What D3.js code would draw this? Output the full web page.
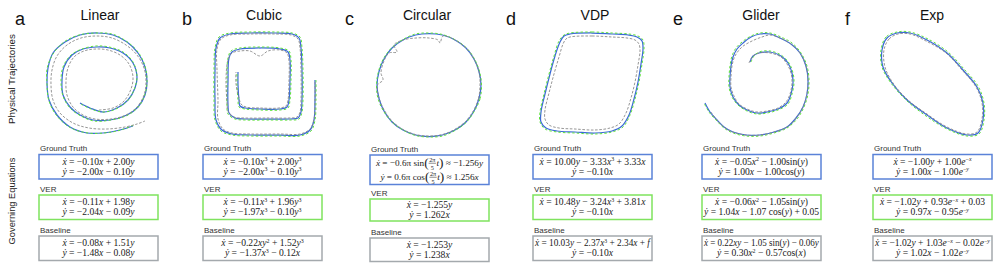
<!DOCTYPE html>
<html>
<head>
<meta charset="utf-8">
<script src="https://cdn.jsdelivr.net/npm/d3@7"></script>
<style>
body { margin: 0; background: #fff; }
svg { display: block; }
text { white-space: pre; }
</style>
</head>
<body>
<svg id="fig" width="997" height="263"></svg>
<script>
// phase-plane trajectories, offsets from each panel's centre (y grows downward)
const linGT = [[-17,20],[-7,25],[6,29],[20,25],[31,17],[38,5],[40,-6],[36,-20],[26,-30],[13,-35],[0,-36],[-14,-34],[-25,-28],[-33,-16],[-35,-3],[-34,12],[-27,24],[-17,32],[-4,37],[13,37],[30,32],[41,24],[48,12],[50,-1],[48,-16],[41,-30],[30,-41],[16,-48],[0,-50],[-17,-48],[-32,-41],[-44,-30],[-49,-15],[-50,0],[-48,17],[-40,32],[-27,44],[-10,50],[6,50],[23,47],[36,43]];
const linVER = [[-16,21],[-6,26],[7,29],[21,25],[32,16],[38,4],[40,-7],[36,-21],[26,-31],[12,-36],[-1,-37],[-15,-34],[-26,-28],[-34,-16],[-36,-2],[-34,13],[-27,25],[-16,33],[-3,38],[14,37],[31,32],[42,23],[48,11],[50,-2],[48,-17],[41,-31],[29,-42],[15,-49],[-1,-50],[-18,-48],[-33,-41],[-44,-29],[-50,-14],[-50,1],[-48,18],[-40,33],[-26,45],[-9,50],[7,50],[24,47],[37,42]];
const linBase = [[2,27],[16,25],[27,18],[34,6],[36,-6],[32,-19],[23,-28],[11,-33],[-1,-34],[-13,-32],[-23,-26],[-29,-15],[-31,-2],[-30,12],[-24,24],[-14,32],[-2,36],[14,36],[29,32],[40,24],[47,12],[49,-1],[47,-15],[40,-28],[29,-38],[15,-45],[0,-47],[-16,-45],[-30,-38],[-40,-27],[-45,-13],[-46,2],[-44,17],[-37,30],[-24,40],[-8,45],[10,46],[28,44],[40,41],[48,38]];

const cubGT = [[57,-4],[57,16],[56,36],[52,46],[42,51],[22,51],[-8,51],[-26,50],[-36,46],[-42,36],[-43,16],[-43,-14],[-42,-36],[-38,-46],[-28,-50],[-8,-51],[17,-51],[34,-50],[41,-46],[43,-36],[44,-14],[44,16],[43,28],[40,34],[32,35],[12,35],[-13,35],[-23,34],[-29,29],[-30,21],[-30,-4],[-29,-26],[-26,-32],[-18,-35],[2,-36],[22,-35],[30,-32],[32,-24],[32,-4],[31,16],[29,23],[22,25],[2,25],[-13,24],[-18,22],[-19,16],[-20,1],[-20,-12]];
const cubVER = [[58,-4],[58,16],[57,36],[53,47],[42,52],[22,52],[-8,52],[-26,51],[-37,47],[-43,36],[-44,16],[-44,-14],[-43,-36],[-39,-47],[-28,-51],[-8,-52],[17,-52],[34,-51],[42,-47],[44,-36],[45,-14],[45,16],[44,28],[41,35],[32,36],[12,36],[-13,36],[-23,35],[-30,30],[-31,21],[-31,-4],[-30,-26],[-27,-33],[-18,-36],[2,-37],[22,-36],[31,-33],[33,-24],[33,-4],[32,16],[30,24],[22,26],[2,26],[-13,25],[-19,23],[-20,16],[-21,1],[-21,-12]];
const cubBase = [[57,-2],[57,16],[56,35],[52,45],[42,50],[22,50],[-8,50],[-26,49],[-35,45],[-40,35],[-40,16],[-41,-14],[-41,-35],[-37,-45],[-28,-49],[-8,-50],[17,-50],[33,-49],[40,-45],[42,-36],[43,-14],[43,16],[42,28],[39,33],[31,34],[12,34],[-13,34],[-24,33],[-30,27],[-31,18],[-32,-4],[-30,-24],[-26,-31],[-18,-33],[-8,-33],[2,-28],[10,-33],[22,-34],[29,-31],[31,-23],[31,-4],[30,16],[28,22],[21,24],[2,24],[-12,23],[-17,20],[-19,14],[-22,0],[-22,-12]];

const circGT = [[52,0],[50,13.5],[45,26],[37,37],[26,45],[13.5,50],[0,51.5],[-13.5,50],[-26,45],[-37,37],[-45,26],[-50,13.5],[-52,0],[-50,-13.5],[-45,-26],[-37,-37],[-26,-45],[-13.5,-50],[0,-51.5],[13.5,-50],[26,-45],[37,-37],[45,-26],[50,-13.5]];
const circVER = [[52.5,0],[51,14],[45.5,26],[37,37.5],[26,45.5],[13.5,51],[0,52],[-13.5,50.5],[-26,45],[-37,37],[-45.5,26],[-51,13.5],[-52.5,0],[-50.5,-13.5],[-45.5,-26.5],[-37,-37.5],[-26,-45.5],[-13.5,-51],[0,-52],[13.5,-50.5],[26.5,-45],[37.5,-37],[45.5,-26],[50.5,-13.5]];
const circBase = [[51,0],[49.5,13.5],[44.5,25.5],[36.5,36.5],[25.5,44.5],[13.5,49.5],[0,51],[-13.5,49.5],[-26,44.5],[-36.5,36.5],[-44.5,25.5],[-50,13],[-51.5,0],[-46,-5],[-48,-12],[-45,-24],[-40,-32],[-32,-33],[-35,-40],[-26,-45],[-13,-47],[0,-47],[9,-45],[11,-42],[14,-49],[26,-45],[37,-37],[45,-26],[50,-13.5]];

const vdpGT = [[-22,-50],[0,-51],[20,-50],[36,-49],[45,-47],[50,-43],[51,-35],[49,-20],[46,-2],[42,15],[37,31],[30,42],[20,47],[3,49],[-17,48],[-35,47],[-46,44],[-51,38],[-51,28],[-47,10],[-42,-10],[-37,-28],[-32,-42],[-28,-48]];
const vdpVER = [[-22,-51],[0,-52],[20,-51],[37,-50],[46,-48],[51,-44],[52,-35],[50,-20],[47,-2],[43,15],[38,31],[31,43],[20,48],[3,50],[-17,49],[-35,48],[-47,45],[-52,38],[-52,28],[-48,10],[-43,-10],[-38,-28],[-33,-43],[-28,-49]];
const vdpBase = [[-22,-47],[0,-48],[20,-47],[35,-46],[43,-44],[47,-40],[48,-33],[46,-19],[43,-2],[39,14],[34,29],[27,40],[18,44],[3,46],[-17,45],[-33,44],[-43,41],[-47,35],[-47,26],[-43,9],[-38,-10],[-33,-27],[-29,-40],[-26,-45]];

const gliGT = [[-7,-22],[-4,-28],[2,-31],[13,-32],[24,-28],[31,-21],[35,-11],[36,-1],[34,10],[30,19],[21,25],[10,28],[0,29],[-10,26],[-18,21],[-24,13],[-27,3],[-27,-7],[-26,-18],[-24,-27],[-20,-35],[-14,-41],[-6,-47],[3,-50],[13,-50],[23,-46],[34,-40],[43,-31],[49,-18],[51,-4],[50,10],[46,23],[39,34],[30,43],[17,48],[3,51],[-11,51],[-24,48],[-33,43],[-40,36],[-47,28],[-52,19]];
const gliVER = [[-6,-22],[-3,-28],[2,-32],[13,-33],[24,-29],[32,-21],[36,-11],[37,-1],[35,10],[31,20],[21,26],[10,29],[0,30],[-10,27],[-19,21],[-25,13],[-28,3],[-28,-7],[-27,-18],[-25,-28],[-21,-36],[-15,-42],[-6,-48],[3,-51],[13,-51],[24,-47],[35,-41],[44,-31],[50,-18],[52,-4],[51,10],[47,23],[40,35],[30,44],[17,49],[3,52],[-11,52],[-24,49],[-33,44],[-41,36],[-48,28],[-53,19]];
const gliBase = [[-8,-21],[-4,-28],[2,-31],[13,-31],[24,-27],[30,-20],[34,-11],[35,-1],[33,10],[29,18],[21,24],[10,27],[0,28],[-10,25],[-18,20],[-23,12],[-26,3],[-26,-7],[-25,-18],[-22,-28],[-15,-37],[-5,-43],[5,-47],[13,-49],[23,-46],[34,-40],[43,-31],[49,-18],[51,-4],[50,10],[46,23],[39,34],[30,43],[17,48],[3,51],[-11,51],[-24,48],[-33,43],[-40,36],[-46,28]];

const expGT = [[-35,-51],[-45,-46],[-50,-34],[-49,-17],[-40,-1],[-25,16],[-5,31],[15,44],[35,51],[46,49],[51,36],[51,19],[45,3],[31,-14],[15,-31],[-5,-44],[-22,-51]];
const expVER = [[-35,-52],[-46,-47],[-51,-34],[-50,-17],[-41,-1],[-26,16],[-6,32],[15,45],[35,52],[47,50],[52,36],[52,19],[46,2],[32,-15],[16,-32],[-4,-45],[-22,-52]];
const expBase = [[-34,-50],[-43,-45],[-48,-34],[-47,-17],[-39,-1],[-24,16],[-5,30],[15,43],[35,50],[45,48],[50,35],[50,19],[44,3],[30,-14],[14,-31],[-6,-43],[-22,-50]];

const letters = ['a', 'b', 'c', 'd', 'e', 'f'];
const titles = ['Linear', 'Cubic', 'Circular', 'VDP', 'Glider', 'Exp'];
const rowLabels = ['Ground Truth', 'VER', 'Baseline'];

// governing equations, two lines per box (^ superscript, \f fraction, < > big parens)
const eqGT = [
  ['ẋ = −0.10x + 2.00y', 'ẏ = −2.00x − 0.10y'],
  ['ẋ = −0.10x^3 + 2.00y^3', 'ẏ = −2.00x^3 − 0.10y^3'],
  ['ẋ = −0.6π sin<\\f{2π}{5}t> ≈ −1.256y', 'ẏ = 0.6π cos<\\f{2π}{5}t> ≈ 1.256x'],
  ['ẋ = 10.00y − 3.33x^3 + 3.33x', 'ẏ = −0.10x'],
  ['ẋ = −0.05x^2 − 1.00sin(y)', 'ẏ = 1.00x − 1.00cos(y)'],
  ['ẋ = −1.00y + 1.00e^{−x}', 'ẏ = 1.00x − 1.00e^{−y}']
];
const eqVER = [
  ['ẋ = −0.11x + 1.98y', 'ẏ = −2.04x − 0.09y'],
  ['ẋ = −0.11x^3 + 1.96y^3', 'ẏ = −1.97x^3 − 0.10y^3'],
  ['ẋ = −1.255y', 'ẏ = 1.262x'],
  ['ẋ = 10.48y − 3.24x^3 + 3.81x', 'ẏ = −0.10x'],
  ['ẋ = −0.06x^2 − 1.05sin(y)', 'ẏ = 1.04x − 1.07 cos(y) + 0.05'],
  ['ẋ = −1.02y + 0.93e^{−x} + 0.03', 'ẏ = 0.97x − 0.95e^{−y}']
];
const eqBase = [
  ['ẋ = −0.08x + 1.51y', 'ẏ = −1.48x − 0.08y'],
  ['ẋ = −0.22xy^2 + 1.52y^3', 'ẏ = −1.37x^3 − 0.12x'],
  ['ẋ = −1.253y', 'ẏ = 1.238x'],
  ['ẋ = 10.03y − 2.37x^3 + 2.34x + f', 'ẏ = −0.10x'],
  ['ẋ = 0.22xy − 1.05 sin(y) − 0.06y', 'ẏ = 0.30x^2 − 0.57cos(x)'],
  ['ẋ = −1.02y + 1.03e^{−x} − 0.02e^{−y}', 'ẏ = 1.02x − 1.02e^{−y}']
];

const trajGT = [linGT, cubGT, circGT, vdpGT, gliGT, expGT];
const trajVER = [linVER, cubVER, circVER, vdpVER, gliVER, expVER];
const trajBase = [linBase, cubBase, circBase, vdpBase, gliBase, expBase];
const closedLoop = [false, false, true, true, false, true];

// layout
const centers = [[97, 83], [258, 84], [429, 85], [592, 84], [757, 84], [932, 84]];
const letterX = [15, 182, 345, 506, 673, 845];
const titleX = [100, 264, 427, 595, 761, 932];
const boxX = [39, 203, 370, 533, 702, 873];
const boxW = 119;

const colGT = '#3b6bd6', colVER = '#5ee23a', colBase = '#8a8a8a';
const borderCols = ['#5a82d8', '#7fe35e', '#a4a9ad'];

const svg = d3.select('#fig');
const sans = '"Liberation Sans", Arial, sans-serif';
const serif = '"Liberation Serif", "Times New Roman", serif';

// side labels
svg.append('text')
  .attr('transform', 'translate(14.5,79) rotate(-90)')
  .attr('text-anchor', 'middle').attr('font-family', sans).attr('font-size', 9.8)
  .attr('fill', '#222').text('Physical Trajectories');
svg.append('text')
  .attr('transform', 'translate(15,201) rotate(-90)')
  .attr('text-anchor', 'middle').attr('font-family', sans).attr('font-size', 9.3)
  .attr('fill', '#222').text('Governing Equations');

const italic = new Set(['x', 'y', 't', 'f', 'e', 'ẋ', 'ẏ']);

function runs(str) {
  const out = [];
  for (const ch of str) {
    const it = italic.has(ch);
    if (out.length && out[out.length - 1].it === it) out[out.length - 1].s += ch;
    else out.push({ s: ch, it });
  }
  return out;
}

function tokenize(s) {
  const toks = [];
  let buf = '', i = 0;
  const flush = () => { if (buf) toks.push({ type: 'txt', s: buf }); buf = ''; };
  while (i < s.length) {
    const c = s[i];
    if (c === '^') {
      flush();
      if (s[i + 1] === '{') {
        const j = s.indexOf('}', i);
        toks.push({ type: 'sup', s: s.slice(i + 2, j) });
        i = j + 1;
      } else {
        toks.push({ type: 'sup', s: s[i + 1] });
        i += 2;
      }
    } else if (s.startsWith('\\f{', i)) {
      flush();
      const j = s.indexOf('}', i);
      const k = s.indexOf('}', j + 1);
      toks.push({ type: 'frac', num: s.slice(i + 3, j), den: s.slice(j + 2, k) });
      i = k + 1;
    } else if (c === '<' || c === '>') {
      flush();
      toks.push({ type: 'big', s: c === '<' ? '(' : ')' });
      i++;
    } else {
      buf += c;
      i++;
    }
  }
  flush();
  return toks;
}

// lays the line out left to right at baseline 0, then centres (and squeezes if too wide)
function drawEq(parent, cx, baseY, str, size, maxW) {
  const grp = parent.append('g');
  let x = 0;
  const put = (s, fs, dy) => {
    const t = grp.append('text').attr('x', x).attr('y', dy)
      .attr('font-size', fs).attr('font-family', serif).attr('fill', '#1a1a1a');
    runs(s).forEach(r => t.append('tspan').attr('font-style', r.it ? 'italic' : 'normal').text(r.s));
    x += t.node().getComputedTextLength();
    return t;
  };
  tokenize(str).forEach(tok => {
    if (tok.type === 'txt') put(tok.s, size, 0);
    else if (tok.type === 'sup') put(tok.s, size * 0.62, -size * 0.36);
    else if (tok.type === 'big') put(tok.s, size * 1.45, size * 0.12);
    else if (tok.type === 'frac') {
      const x0 = x, fs = size * 0.68;
      const n = grp.append('text').attr('y', -size * 0.48).attr('font-size', fs)
        .attr('font-family', serif).attr('text-anchor', 'middle').attr('fill', '#1a1a1a');
      runs(tok.num).forEach(r => n.append('tspan').attr('font-style', r.it ? 'italic' : 'normal').text(r.s));
      const d = grp.append('text').attr('y', size * 0.42).attr('font-size', fs)
        .attr('font-family', serif).attr('text-anchor', 'middle').attr('fill', '#1a1a1a').text(tok.den);
      const w = Math.max(n.node().getComputedTextLength(), d.node().getComputedTextLength()) + 1;
      n.attr('x', x0 + w / 2);
      d.attr('x', x0 + w / 2);
      grp.append('line').attr('x1', x0).attr('x2', x0 + w)
        .attr('y1', -size * 0.3).attr('y2', -size * 0.3)
        .attr('stroke', '#1a1a1a').attr('stroke-width', 0.5);
      x += w + 0.5;
    }
  });
  const s = Math.min(1, maxW / x);
  grp.attr('transform', `translate(${cx - x * s / 2},${baseY}) scale(${s},1)`);
}

letters.forEach((letter, i) => {
  const [cx, cy] = centers[i];
  const sx = d3.scaleLinear().domain([-60, 60]).range([cx - 60, cx + 60]);
  const sy = d3.scaleLinear().domain([-60, 60]).range([cy - 60, cy + 60]);
  const line = d3.line()
    .x(d => sx(d[0])).y(d => sy(d[1]))
    .curve(closedLoop[i] ? d3.curveCatmullRomClosed.alpha(0.5) : d3.curveCatmullRom.alpha(0.5));

  const g = svg.append('g');
  g.append('text').attr('x', letterX[i]).attr('y', 25)
    .attr('font-family', sans).attr('font-size', 18).attr('fill', '#111').text(letter);
  g.append('text').attr('x', titleX[i]).attr('y', 20).attr('text-anchor', 'middle')
    .attr('font-family', sans).attr('font-size', 14).attr('fill', '#111').text(titles[i]);

  g.append('path').attr('d', line(trajGT[i])).attr('fill', 'none')
    .attr('stroke', colGT).attr('stroke-width', 1.25);
  g.append('path').attr('d', line(trajVER[i])).attr('fill', 'none')
    .attr('stroke', colVER).attr('stroke-width', 1).attr('stroke-dasharray', '2.4,2.2');
  g.append('path').attr('d', line(trajBase[i])).attr('fill', 'none')
    .attr('stroke', colBase).attr('stroke-width', 0.9).attr('stroke-dasharray', '2.6,1.6');

  // equation boxes
  const circ = i === 2;
  const boxes = [
    { top: circ ? 155 : 154.5, h: circ ? 29.5 : 24.5, eq: eqGT[i] },
    { top: circ ? 199 : 195, h: circ ? 22 : 24.5, eq: eqVER[i] },
    { top: circ ? 238 : 236, h: circ ? 23.5 : 24.5, eq: eqBase[i] }
  ];
  boxes.forEach((b, k) => {
    g.append('text').attr('x', boxX[i] + 1).attr('y', b.top - 3.5)
      .attr('font-family', sans).attr('font-size', 8).attr('fill', '#333').text(rowLabels[k]);
    g.append('rect').attr('x', boxX[i]).attr('y', b.top).attr('width', boxW).attr('height', b.h)
      .attr('fill', '#fff').attr('stroke', borderCols[k]).attr('stroke-width', 1.5);
    const bx = boxX[i] + boxW / 2;
    if (circ && k === 0) {
      drawEq(g, bx, b.top + 11, b.eq[0], 9.2, boxW - 4);
      drawEq(g, bx, b.top + 25, b.eq[1], 9.2, boxW - 4);
    } else {
      const mid = b.top + b.h / 2;
      drawEq(g, bx, mid - 1.9, b.eq[0], 9.6, boxW - 4);
      drawEq(g, bx, mid + 8, b.eq[1], 9.6, boxW - 4);
    }
  });
});
</script>
</body>
</html>
